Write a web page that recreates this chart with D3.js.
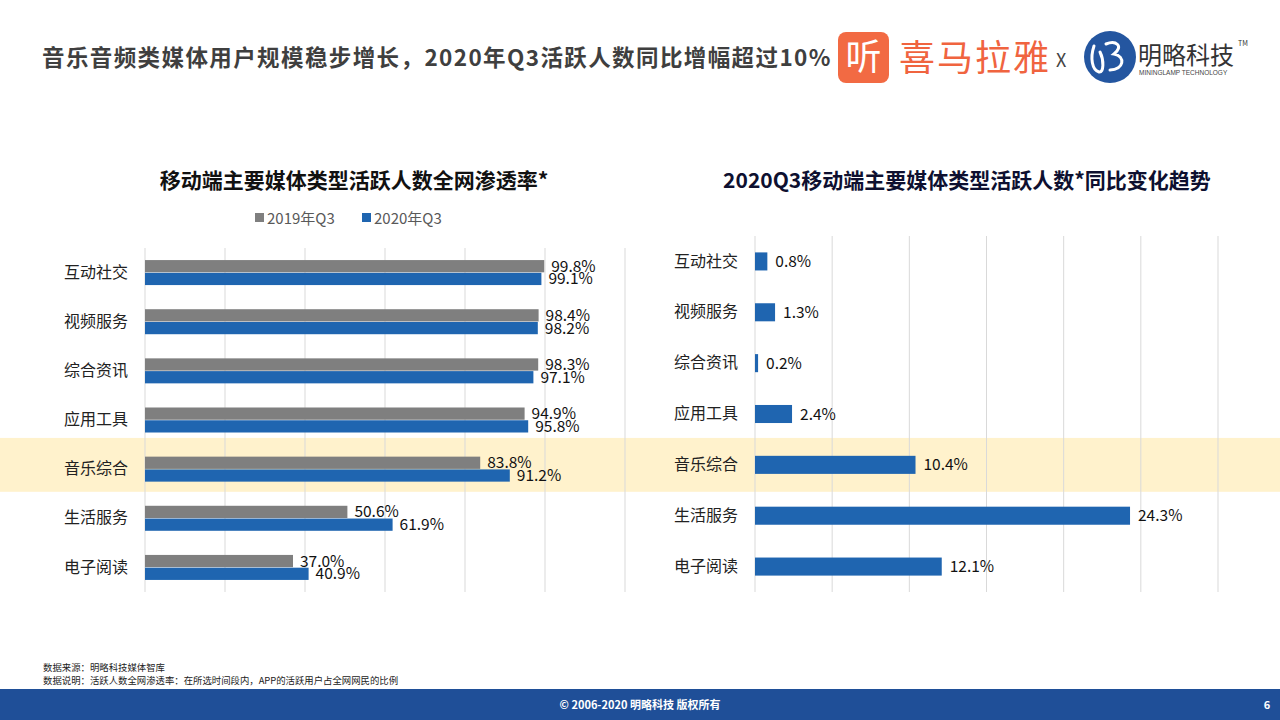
<!DOCTYPE html>
<html>
<head>
<meta charset="utf-8">
<script src="https://cdn.jsdelivr.net/npm/d3@7/dist/d3.min.js"></script>
<style>
  html, body { margin: 0; padding: 0; background: #fff; }
  svg { display: block; font-family: "Noto Sans CJK SC", "Noto Sans", sans-serif; }
</style>
</head>
<body>
<svg id="chart" width="1280" height="720"></svg>
<script>
// ---- Data ----
const categories = ["互动社交", "视频服务", "综合资讯", "应用工具", "音乐综合", "生活服务", "电子阅读"];
const seriesNames = ["2019年Q3", "2020年Q3"];
const penetration2019 = [99.8, 98.4, 98.3, 94.9, 83.8, 50.6, 37.0];
const penetration2020 = [99.1, 98.2, 97.1, 95.8, 91.2, 61.9, 40.9];
const yoyChange = [0.8, 1.3, 0.2, 2.4, 10.4, 24.3, 12.1];
const highlightCategory = "音乐综合";
const leftTicks = [0, 20, 40, 60, 80, 100, 120];
const rightTicks = [0, 5, 10, 15, 20, 25, 30];

const colors = { s2019: "#7f7f7f", s2020: "#1f65b0", grid: "#d9d9d9", highlight: "#fff2cc", footer: "#1f4f98" };

const svg = d3.select("#chart");

// ---- Scales ----
const xL = d3.scaleLinear().domain([0, 120]).range([145, 625]);
const yL = d3.scaleBand().domain(categories).range([248, 592]).paddingInner(0).paddingOuter(0);
const subL = d3.scaleBand().domain(seriesNames).range([-12.5, 12.5]).paddingInner(0.04);

const xR = d3.scaleLinear().domain([0, 30]).range([755, 1218]);
const yR = d3.scaleBand().domain(categories).range([236, 592]).paddingInner(0.645).paddingOuter(0.3225);

// ---- Highlight band (full width) ----
const hb = d3.scaleBand().domain(categories).range([236, 592]);
svg.append("rect")
  .attr("x", 0).attr("width", 1280)
  .attr("y", hb(highlightCategory) - 1.5)
  .attr("height", hb.bandwidth() + 3)
  .attr("fill", colors.highlight);

// ---- Top title ----
svg.append("text")
  .attr("x", 42).attr("y", 66)
  .attr("font-size", 22.5).attr("font-weight", 700).attr("fill", "#3f3f3f")
  .attr("letter-spacing", 1.4)
  .text("音乐音频类媒体用户规模稳步增长，2020年Q3活跃人数同比增幅超过10%");

// ---- Logos ----
const logo = svg.append("g");
logo.append("rect").attr("x", 838).attr("y", 32).attr("width", 51).attr("height", 51).attr("rx", 8).attr("fill", "#f26a43");
logo.append("text").attr("x", 863.5).attr("y", 70).attr("text-anchor", "middle")
  .attr("font-size", 36).attr("fill", "#fff").text("听");
logo.append("text").attr("x", 899).attr("y", 71)
  .attr("font-size", 36).attr("fill", "#f0643f").attr("letter-spacing", 2).text("喜马拉雅");
logo.append("text").attr("x", 1056).attr("y", 67)
  .attr("font-size", 18).attr("fill", "#444").text("X");
logo.append("circle").attr("cx", 1110).attr("cy", 57).attr("r", 26).attr("fill", "#2456a0");
logo.append("path")
  .attr("d", "M1094,46 C1090,58 1092,70 1099,72 C1104,73 1104,60 1100,52 M1106,44 C1116,40 1124,46 1114,54 C1126,56 1124,70 1110,70")
  .attr("fill", "none").attr("stroke", "#fff").attr("stroke-width", 3).attr("stroke-linecap", "round");
logo.append("text").attr("x", 1138).attr("y", 64)
  .attr("font-size", 24).attr("fill", "#333").text("明略科技");
logo.append("text").attr("x", 1238).attr("y", 46)
  .attr("font-size", 7).attr("fill", "#333").text("TM");
logo.append("text").attr("x", 1139).attr("y", 75)
  .attr("font-size", 6.5).attr("fill", "#444").attr("font-family", "Liberation Sans, sans-serif").text("MININGLAMP TECHNOLOGY");

// ---- Left chart ----
svg.append("text")
  .attr("x", 354).attr("y", 188).attr("text-anchor", "middle")
  .attr("font-size", 21).attr("font-weight", 700).attr("fill", "#111")
  .text("移动端主要媒体类型活跃人数全网渗透率*");

// legend
const legend = svg.append("g");
const legendX = [255, 362];
seriesNames.forEach((s, i) => {
  legend.append("rect").attr("x", legendX[i]).attr("y", 213).attr("width", 9).attr("height", 9)
    .attr("fill", i === 0 ? colors.s2019 : colors.s2020);
  legend.append("text").attr("x", legendX[i] + 12).attr("y", 223.5)
    .attr("font-size", 15).attr("fill", "#595959").text(s);
});

// grid
svg.append("g").selectAll("line").data(leftTicks).join("line")
  .attr("x1", d => xL(d)).attr("x2", d => xL(d))
  .attr("y1", 248).attr("y2", 592)
  .attr("stroke", colors.grid).attr("stroke-width", 1);

// category axis
const axL = svg.append("g").attr("transform", "translate(145,0)")
  .call(d3.axisLeft(yL).tickSize(0).tickPadding(17));
axL.select(".domain").remove();
axL.selectAll("text").attr("font-size", 16).attr("fill", "#222")
  .attr("font-family", "'Noto Sans CJK SC', sans-serif");

const leftRows = categories.map((c, i) => ({ c, v: [penetration2019[i], penetration2020[i]] }));
const gL = svg.append("g");
leftRows.forEach(row => {
  const cy = yL(row.c) + yL.bandwidth() / 2;
  seriesNames.forEach((s, j) => {
    const y0 = cy + subL(s);
    gL.append("rect")
      .attr("x", xL(0)).attr("y", y0)
      .attr("width", xL(row.v[j]) - xL(0)).attr("height", subL.bandwidth())
      .attr("fill", j === 0 ? colors.s2019 : colors.s2020);
    gL.append("text")
      .attr("x", xL(row.v[j]) + 7).attr("y", y0 + subL.bandwidth() / 2 + 5.5)
      .attr("font-size", 15.5).attr("fill", "#111")
      .text(row.v[j].toFixed(1) + "%");
  });
});

// ---- Right chart ----
svg.append("text")
  .attr("x", 967).attr("y", 188).attr("text-anchor", "middle")
  .attr("font-size", 21).attr("font-weight", 700).attr("fill", "#0e1030")
  .text("2020Q3移动端主要媒体类型活跃人数*同比变化趋势");

svg.append("g").selectAll("line").data(rightTicks).join("line")
  .attr("x1", d => xR(d)).attr("x2", d => xR(d))
  .attr("y1", 236).attr("y2", 592)
  .attr("stroke", colors.grid).attr("stroke-width", 1);

const axR = svg.append("g").attr("transform", "translate(755,0)")
  .call(d3.axisLeft(yR).tickSize(0).tickPadding(17));
axR.select(".domain").remove();
axR.selectAll("text").attr("font-size", 16).attr("fill", "#222")
  .attr("font-family", "'Noto Sans CJK SC', sans-serif");

const rightRows = categories.map((c, i) => ({ c, v: yoyChange[i] }));
const gR = svg.append("g");
gR.selectAll("rect").data(rightRows).join("rect")
  .attr("x", xR(0)).attr("y", d => yR(d.c))
  .attr("width", d => Math.max(2, xR(d.v) - xR(0))).attr("height", yR.bandwidth())
  .attr("fill", colors.s2020);
gR.selectAll("text").data(rightRows).join("text")
  .attr("x", d => Math.max(xR(0) + 2, xR(d.v)) + 8)
  .attr("y", d => yR(d.c) + yR.bandwidth() / 2 + 5.5)
  .attr("font-size", 15.5).attr("fill", "#111")
  .text(d => d.v.toFixed(1) + "%");

// ---- Footnotes ----
svg.append("text").attr("x", 43).attr("y", 671).attr("font-size", 9.4).attr("fill", "#222")
  .text("数据来源：明略科技媒体智库");
svg.append("text").attr("x", 43).attr("y", 684).attr("font-size", 9.4).attr("fill", "#222")
  .text("数据说明：活跃人数全网渗透率：在所选时间段内，APP的活跃用户占全网网民的比例");

// ---- Footer ----
svg.append("rect").attr("x", 0).attr("y", 689).attr("width", 1280).attr("height", 31).attr("fill", colors.footer);
svg.append("text").attr("x", 640).attr("y", 709).attr("text-anchor", "middle")
  .attr("font-size", 11).attr("font-weight", 700).attr("fill", "#fff")
  .text("© 2006-2020 明略科技 版权所有");
svg.append("text").attr("x", 1267).attr("y", 709).attr("text-anchor", "middle")
  .attr("font-size", 11).attr("font-weight", 700).attr("fill", "#fff")
  .text("6");
</script>
</body>
</html>
